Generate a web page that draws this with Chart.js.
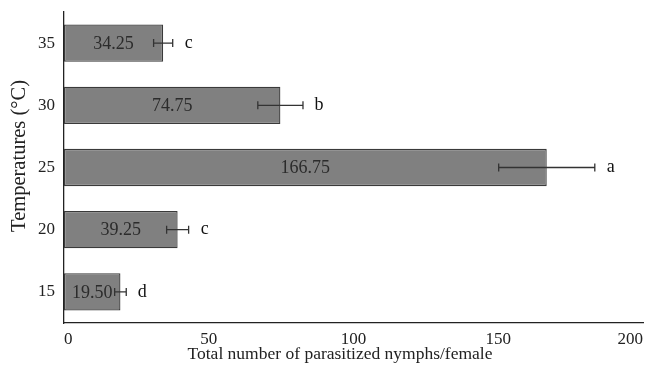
<!DOCTYPE html>
<html>
<head>
<meta charset="utf-8">
<script src="https://cdn.jsdelivr.net/npm/chart.js@4"></script>
<style>
  html, body { margin: 0; padding: 0; background: #fff; }
  #wrap { width: 655px; height: 369px; }
</style>
</head>
<body>
<div id="wrap"><canvas id="chart" width="655" height="369"></canvas></div>
<script>
var temperatures = ["35", "30", "25", "20", "15"];
var meanNymphs = [34.25, 74.75, 166.75, 39.25, 19.50];
var errNymphs = [3.3, 7.8, 16.6, 3.8, 2.0];
var letters = ["c", "b", "a", "c", "d"];
var xTicks = [0, 50, 100, 150, 200];
var xTitle = "Total number of parasitized nymphs/female";
var yTitle = "Temperatures (°C)";

var serif = "'Liberation Serif', 'Times New Roman', serif";

var errorBarPlugin = {
  id: "errorBars",
  afterDatasetsDraw: function (chart) {
    var ctx = chart.ctx;
    var xs = chart.scales.x;
    var ys = chart.scales.y;
    ctx.save();
    ctx.textAlign = "center";
    ctx.textBaseline = "middle";
    meanNymphs.forEach(function (v, i) {
      var y = ys.getPixelForValue(i);
      var x0 = xs.getPixelForValue(0);
      var xv = xs.getPixelForValue(v);
      var lo = xs.getPixelForValue(v - errNymphs[i]);
      var hi = xs.getPixelForValue(v + errNymphs[i]);

      // value in the bar
      ctx.fillStyle = "#2b2b2b";
      ctx.font = "18px " + serif;
      ctx.fillText(v.toFixed(2), (x0 + xv) / 2, y + 1);

      // error bar
      ctx.strokeStyle = "#333";
      ctx.lineWidth = 1.3;
      ctx.beginPath();
      ctx.moveTo(lo, y); ctx.lineTo(hi, y);
      ctx.moveTo(lo, y - 4); ctx.lineTo(lo, y + 4);
      ctx.moveTo(hi, y - 4); ctx.lineTo(hi, y + 4);
      ctx.stroke();

      // significance letter
      ctx.fillStyle = "#111";
      ctx.font = "18px " + serif;
      ctx.fillText(letters[i], hi + 16, y);
    });

    // axis titles
    ctx.fillStyle = "#222";
    ctx.font = "17.5px " + serif;
    ctx.fillText(xTitle, 340, 354);
    ctx.translate(20, 156);
    ctx.rotate(-Math.PI / 2);
    ctx.font = "20.5px " + serif;
    ctx.fillText(yTitle, 0, 0);
    ctx.restore();
  }
};

new Chart(document.getElementById("chart").getContext("2d"), {
  type: "bar",
  data: {
    labels: temperatures,
    datasets: [{
      data: meanNymphs,
      backgroundColor: "#808080",
      borderColor: "#3a3a3a",
      borderWidth: 1.3,
      borderSkipped: false,
      barPercentage: 0.6,
      categoryPercentage: 1
    }]
  },
  options: {
    indexAxis: "y",
    responsive: false,
    animation: false,
    layout: { padding: { top: 12, right: 12, left: 0, bottom: 0 } },
    plugins: { legend: { display: false }, tooltip: { enabled: false } },
    scales: {
      x: {
        min: 0,
        max: 200,
        afterBuildTicks: function (scale) {
          scale.ticks = xTicks.map(function (v) { return { value: v }; });
        },
        afterFit: function (scale) { scale.height = 46; },
        grid: { display: false, drawTicks: false },
        border: { display: true, color: "#222", width: 1.3 },
        ticks: { align: "inner", padding: 6, color: "#222", font: { family: serif, size: 17 } }
      },
      y: {
        afterFit: function (scale) {
          scale.width = 64;
          scale.paddingTop = 0;
          scale.paddingBottom = 0;
        },
        grid: { display: false, drawTicks: false },
        border: { display: true, color: "#222", width: 1.3 },
        ticks: { padding: 9, color: "#222", font: { family: serif, size: 17 } }
      }
    }
  },
  plugins: [errorBarPlugin]
});
</script>
</body>
</html>
